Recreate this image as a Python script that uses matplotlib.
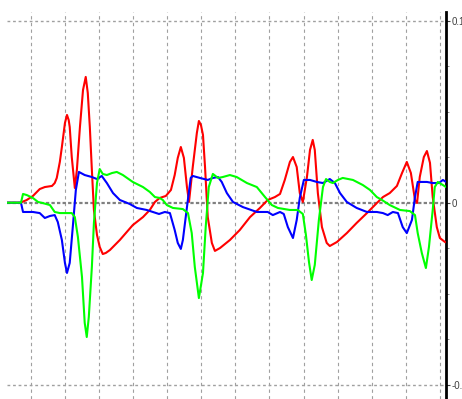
import matplotlib
matplotlib.use("Agg")
import matplotlib.pyplot as plt
from matplotlib.ticker import MultipleLocator

# Three-lead trace, time in ms, amplitude in the recorder's units
red_t = [-70, -32, -26, -12, 6, 26, 41, 62, 70, 76, 85, 91, 100, 106, 111, 114, 120, 129,
         135, 144, 153, 161, 167, 173, 179, 185, 194, 202, 211, 220, 232, 261, 299, 329,
         349, 364, 378, 396, 411, 422, 431, 440, 449, 458, 464, 475, 487, 493, 499, 505,
         511, 519, 531, 540, 555, 584, 613, 643, 672, 695, 716, 731, 745, 760, 769, 780,
         789, 798, 810, 819, 827, 833, 842, 854, 868, 877, 898, 927, 956, 986, 1015, 1033,
         1053, 1074, 1089, 1103, 1115, 1127, 1133, 1141, 1153, 1162, 1171, 1179, 1191,
         1200, 1215]
red_v = [0, 0, 0.4, 1.5, 3.7, 7.5, 8.6, 9.2, 10.8, 13.6, 22.4, 30.6, 43.8, 48.2, 45.4, 41.6,
         25.1, 8.1, 18.0, 41.6, 61.9, 69.1, 60.3, 41.6, 18.0, -4.0, -17.7, -24.3, -28.2,
         -27.6, -26.0, -20.5, -12.3, -7.9, -4.0, 0.4, 2.6, 3.7, 7.0, 15.2, 24.6, 30.6, 24.6,
         8.6, 0.4, 19.6, 38.3, 44.9, 42.7, 37.2, 19.6, -7.9, -22.1, -26.5, -24.9, -20.5,
         -15.0, -7.9, -2.9, 1.5, 3.1, 4.8, 12.5, 22.4, 25.1, 19.6, 5.3, 0.4, 14.1, 29.0,
         34.5, 29.0, 5.3, -13.4, -22.1, -23.8, -21.6, -16.7, -11.1, -5.7, -0.2, 3.1, 5.3,
         9.2, 16.3, 22.4, 16.3, 1.5, -0.2, 14.1, 25.1, 28.4, 21.9, 3.1, -13.4, -19.4, -21.6]

green_t = [-70, -29, -23, -12, 6, 21, 35, 56, 70, 85, 120, 129, 138, 150, 158, 164, 170, 179,
           185, 194, 202, 211, 223, 238, 252, 270, 299, 329, 349, 364, 378, 387, 399, 417,
           446, 461, 472, 481, 493, 505, 513, 522, 534, 549, 563, 584, 604, 634, 663, 687,
           707, 725, 760, 783, 798, 807, 816, 824, 833, 845, 857, 866, 877, 886, 901, 915,
           945, 974, 995, 1015, 1030, 1053, 1083, 1112, 1127, 1135, 1147, 1159, 1168, 1179,
           1185, 1194, 1209, 1218]
green_v = [0, 0, 4.8, 4.2, 2.6, 0.4, -0.2, -1.3, -5.1, -5.7, -5.7, -7.9, -18.8, -40.8, -66.0,
           -73.8, -62.8, -35.3, -11.1, 10.8, 18.5, 15.8, 15.2, 16.3, 16.9, 15.2, 11.4, 8.6,
           5.9, 3.1, 2.6, 1.5, -1.3, -2.9, -3.5, -5.7, -16.7, -35.3, -52.4, -38.6, -13.4,
           8.6, 15.8, 13.6, 14.1, 15.2, 14.1, 10.8, 8.6, 3.1, -1.3, -2.9, -4.0, -4.0, -6.2,
           -17.7, -32.6, -42.5, -34.2, -9.5, 8.6, 13.0, 11.4, 10.8, 12.5, 13.6, 12.5, 9.7,
           7.0, 3.1, 1.5, -1.3, -4.0, -4.6, -6.8, -16.7, -27.6, -35.9, -24.3, -4.0, 8.6,
           11.4, 9.7, 8.6]

blue_t = [-70, -29, -23, 6, 26, 41, 56, 70, 79, 91, 100, 106, 114, 123, 132, 141, 158, 179,
          194, 208, 223, 241, 261, 290, 311, 340, 358, 376, 393, 408, 422, 431, 440, 446,
          458, 469, 475, 496, 519, 534, 549, 560, 575, 593, 622, 663, 695, 710, 731, 742,
          754, 769, 780, 789, 801, 819, 839, 857, 877, 892, 907, 927, 956, 986, 1015, 1033,
          1047, 1062, 1077, 1091, 1103, 1118, 1127, 1135, 1162, 1179, 1197, 1209, 1218]
blue_v = [0, 0, -5.1, -5.1, -5.7, -8.4, -7.3, -6.8, -10.6, -20.5, -33.1, -38.6, -33.1, -13.4,
          7.0, 16.9, 15.2, 14.1, 13.0, 14.7, 10.8, 5.3, 1.5, -0.7, -2.9, -4.0, -5.1, -6.2,
          -5.1, -5.7, -15.0, -22.1, -25.4, -20.5, -2.4, 13.6, 14.7, 13.6, 12.5, 13.6, 14.1,
          11.4, 5.3, 0.4, -2.4, -5.1, -5.1, -6.8, -5.1, -6.2, -13.4, -19.4, -9.5, 2.6, 12.5,
          12.5, 11.4, 10.8, 13.0, 10.8, 5.3, 0.4, -2.9, -5.1, -5.1, -5.7, -6.8, -5.1, -5.7,
          -13.4, -16.7, -9.5, 3.1, 11.4, 11.4, 10.8, 10.8, 12.5, 11.4]

grid_times = list(range(0, 1201, 100))
y_ticks = [-0.1, 0.0, 0.1]
y_labels = ["-0.1", "0", "0.1"]

fig = plt.figure(figsize=(4.62, 3.99), dpi=100)
ax = fig.add_axes([7 / 462, 0.0, 439 / 462, 387 / 399])

scale = 1e-3
ax.plot(red_t, [v * scale for v in red_v], color="#ff0000", lw=1.5, zorder=3)
ax.plot(blue_t, [v * scale for v in blue_v], color="#0000ff", lw=1.5, zorder=3)
ax.plot(green_t, [v * scale for v in green_v], color="#00ff00", lw=1.5, zorder=3)

for t in grid_times:
    ax.axvline(t, color="#a0a0a0", lw=0.8, dashes=(3, 3), zorder=1)
for y in (-0.1, 0.1):
    ax.axhline(y, color="#a0a0a0", lw=1.0, dashes=(2, 2), zorder=1)
ax.axhline(0, color="#808080", lw=1.6, dashes=(1.5, 1), zorder=2)

ax.set_xlim(-70, 1218)
ax.set_ylim(-0.10786, 0.10478)
ax.set_xticks([])

ax.yaxis.tick_right()
ax.set_yticks(y_ticks)
ax.set_yticklabels(y_labels)
ax.yaxis.set_minor_locator(MultipleLocator(0.025))
ax.tick_params(axis="y", which="major", length=3, width=0.8, pad=1,
               labelsize=7, labelcolor="#404040", color="#404040")
ax.tick_params(axis="y", which="minor", length=2, width=0.6, color="#808080")
for label in ax.get_yticklabels():
    label.set_family("Liberation Sans")

for side in ("left", "top", "bottom"):
    ax.spines[side].set_visible(False)
ax.spines["right"].set_linewidth(2)
ax.spines["right"].set_color("black")

fig.savefig("out.png", dpi=100)
